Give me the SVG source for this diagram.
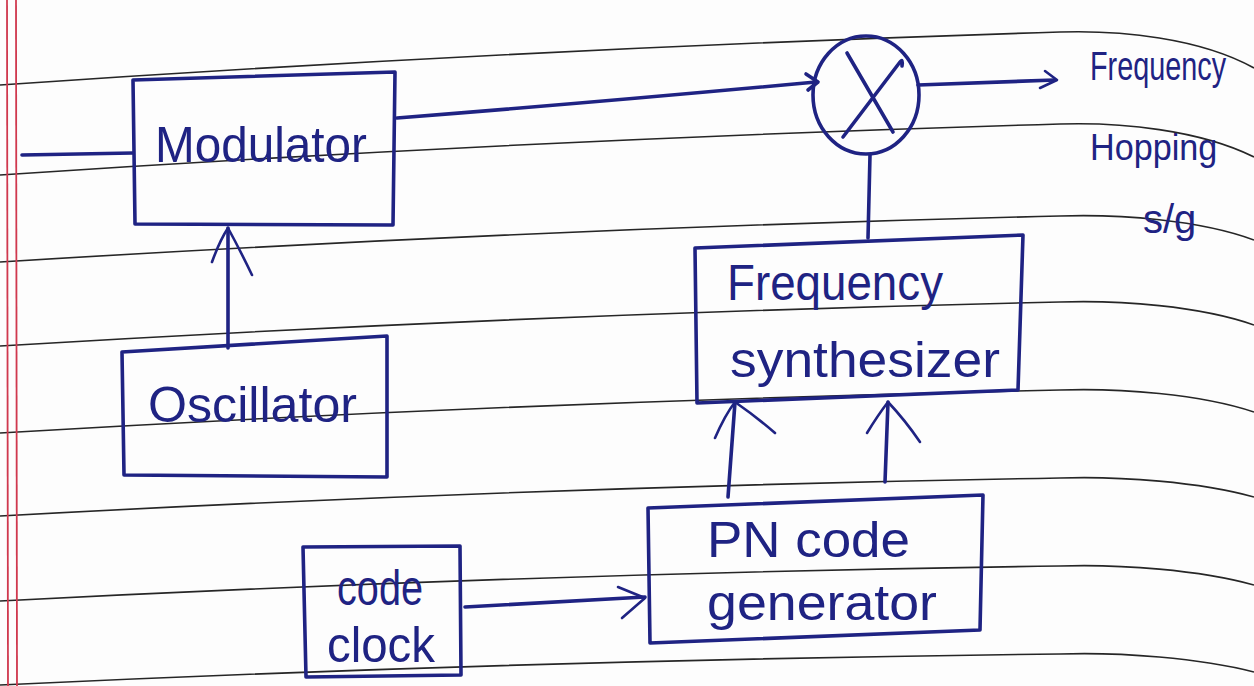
<svg xmlns="http://www.w3.org/2000/svg" width="1254" height="686" viewBox="0 0 1254 686">
<style>
.rule{fill:none;stroke:#262626;stroke-width:1.6}
.margin{fill:none;stroke:#d0384e;stroke-width:1.8}
.ink{fill:none;stroke:#1f2383;stroke-width:3.6;stroke-linecap:round;stroke-linejoin:round}
.thin{fill:none;stroke:#1f2383;stroke-width:2.6;stroke-linecap:round;stroke-linejoin:round}
.t{font-family:"Liberation Sans","DejaVu Sans",sans-serif;fill:#1f2383;font-size:50px}
</style>
<rect width="1254" height="686" fill="#fdfdfd"/>
<g id="paper">
<path class="rule" d="M0,85 Q530,48.5 1060,32 C1120,30 1200,38 1254,68"/>
<path class="rule" d="M0,175 Q530,139.5 1060,124 C1120,122 1200,130 1254,157"/>
<path class="rule" d="M0,262 Q530,229 1060,216 C1120,214 1200,220 1254,240"/>
<path class="rule" d="M0,346 Q530,314 1060,302 C1120,300 1200,306 1254,325"/>
<path class="rule" d="M0,433 Q530,401.5 1060,390 C1120,388 1200,394 1254,412"/>
<path class="rule" d="M0,516 Q530,487 1060,478 C1120,476 1200,482 1254,497"/>
<path class="rule" d="M0,601 Q530,573.5 1060,566 C1120,564 1200,570 1254,585"/>
<path class="rule" d="M0,685 Q530,660 1060,654 C1120,652 1200,658 1254,672"/>
<line class="margin" x1="7" y1="0" x2="8" y2="686"/>
<line class="margin" x1="16" y1="0" x2="17" y2="686"/>
</g>
<g id="connectors">
<path class="ink" d="M22,155 L133,153"/>
<path class="ink" d="M228,348 L228,228"/>
<path class="thin" d="M212,262 Q220,240 228,228 Q240,250 252,275"/>
<path class="ink" d="M397,118 Q600,102 816,82"/>
<path class="ink" d="M806,74 L818,82 L808,90"/>
<path class="ink" d="M918,85 L1055,80"/>
<path class="thin" d="M1045,71 L1057,80 L1040,88"/>
<path class="ink" d="M870,155 L868,238"/>
<path class="ink" d="M728,497 L735,402"/>
<path class="thin" d="M715,438 Q725,415 735,402 Q758,418 775,433"/>
<path class="ink" d="M885,482 L888,402"/>
<path class="thin" d="M867,433 Q878,415 888,402 Q905,420 920,442"/>
<path class="ink" d="M465,607 L645,597"/>
<path class="thin" d="M618,587 L645,598 L622,618"/>
</g>
<g id="modulator">
<path class="ink" d="M133,80 L395,72 L393,225 L135,224 Z"/>
<text class="t" x="155" y="162" textLength="212" lengthAdjust="spacingAndGlyphs">Modulator</text>
</g>
<g id="oscillator">
<path class="ink" d="M122,352 L387,336 L387,477 L124,475 Z"/>
<text class="t" x="148" y="422" textLength="209" lengthAdjust="spacingAndGlyphs">Oscillator</text>
</g>
<g id="mixer">
<ellipse class="ink" cx="866" cy="95" rx="53" ry="59"/>
<path class="ink" d="M847,53 L893,132"/>
<path class="ink" d="M843,137 L900,62 Q903,58 902,66"/>
</g>
<g id="output-label">
<text class="t" transform="translate(1090,80) scale(0.72,1)" x="0" y="0" style="font-size:40px">Frequency</text>
<text class="t" transform="translate(1090,160) scale(0.95,1)" x="0" y="0" style="font-size:36px">Hopping</text>
<text class="t" x="1143" y="233" style="font-size:40px">s/g</text>
</g>
<g id="synthesizer">
<path class="ink" d="M695,248 L1023,235 L1018,390 L697,403 Z"/>
<text class="t" x="727" y="300" textLength="216" lengthAdjust="spacingAndGlyphs">Frequency</text>
<text class="t" x="730" y="377" textLength="270" lengthAdjust="spacingAndGlyphs">synthesizer</text>
</g>
<g id="pn-generator">
<path class="ink" d="M648,508 L983,495 L980,630 L650,643 Z"/>
<text class="t" x="707" y="557" textLength="203" lengthAdjust="spacingAndGlyphs">PN code</text>
<text class="t" x="707" y="620" textLength="230" lengthAdjust="spacingAndGlyphs">generator</text>
</g>
<g id="code-clock">
<path class="ink" d="M303,547 L460,546 L461,675 L306,677 Z"/>
<text class="t" x="337" y="605" textLength="86" lengthAdjust="spacingAndGlyphs">code</text>
<text class="t" x="327" y="662" textLength="108" lengthAdjust="spacingAndGlyphs">clock</text>
</g>
</svg>
